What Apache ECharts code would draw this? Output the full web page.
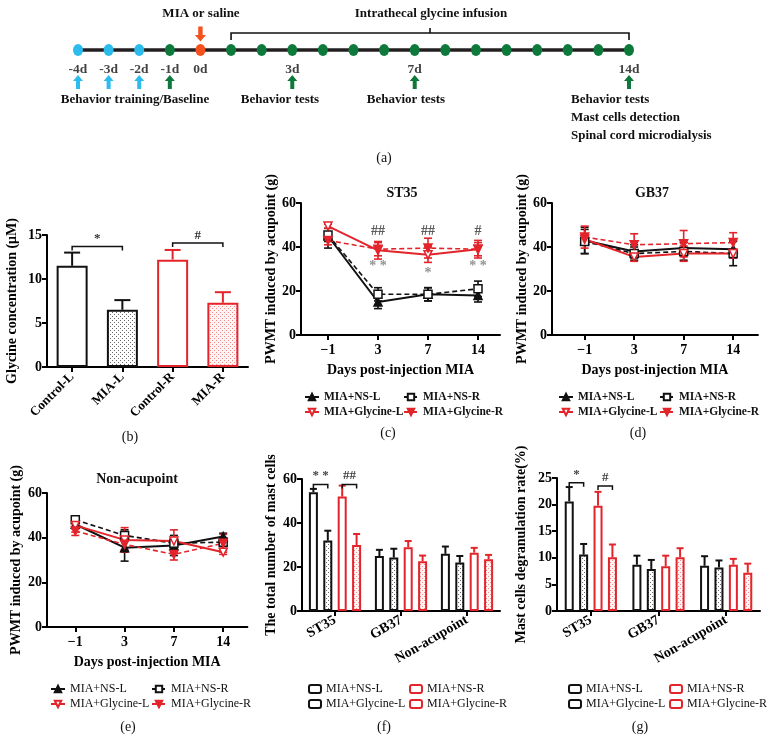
<!DOCTYPE html>
<html><head><meta charset="utf-8">
<script src="https://cdn.jsdelivr.net/npm/echarts/dist/echarts.min.js"></script>
<style>html,body{margin:0;background:#fff;}#root{position:relative;width:768px;height:754px;overflow:hidden;}#root>div{position:absolute;left:0;top:0;width:768px;height:754px;}</style>
</head><body><div id="root"></div>
<script>
// ---------------- DATA ----------------
// (a) timeline
const tlDays = [-4,-3,-2,-1,0,1,2,3,4,5,6,7,8,9,10,11,12,13,14];
const tlLabelDays = [-4,-3,-2,-1,0,3,7,14];
const tlLabels = ['-4d','-3d','-2d','-1d','0d','3d','7d','14d'];
const tlArrowDays = [-4,-3,-2,-1,3,7,14];
const infusionRange = [1,14];

// (b) glycine concentration
const bCats = ['Control-L','MIA-L','Control-R','MIA-R'];
const bMean = [11.5, 6.5, 12.2, 7.3];
const bSem  = [1.5, 1.1, 1.1, 1.2];
const bBrackets = [[0,1,13.7],[2,3,14.1]];
const bBracketText = ['*','#'];

// (c)(d)(e) PWMT time course
const dayCats = ['\u22121','3','7','14'];
const seriesNames = ['MIA+NS-L','MIA+NS-R','MIA+Glycine-L','MIA+Glycine-R'];
const cMeans = [[45,15,18.5,18],[45.5,18.5,18.5,21],[49.5,38.5,36.5,39],[43,39,39.5,39]];
const cSems  = [[5.5,3,3,3],[3,3,3,3.5],[1,4,3.5,4],[2,3,4.5,3]];
const cTopMarks = [[1,47],[2,47],[3,47]];
const cTopText = ['##','##','#'];
const cStarMarks = [[1,31],[2,28],[3,31]];
const cStarText = ['* *','*','* *'];

const dMeans = [[43,38,39.5,39],[42.5,37,38,37],[43.5,35.5,37,37],[44.5,41,41.5,42]];
const dSems  = [[6,3,3.5,4],[5.5,3,4,5.5],[2,2,3.5,2],[5,5,6,4.5]];

const eMeans = [[46,35.5,36.5,40.5],[48,41,37.5,38],[45.5,39,38.5,33.5],[43,37,32.5,37.5]];
const eSems  = [[2,6,4.5,1.5],[1.5,2.5,2,2],[3,5.5,5,1],[2,2.5,2.5,4]];

// (f)(g) mast cells
const mastCats = ['ST35','GB37','Non-acupoint'];
const barNames = ['MIA+NS-L','MIA+Glycine-L','MIA+NS-R','MIA+Glycine-R'];
const fMeans = [[54,25,26],[32,24.3,22],[52,29,26.5],[30,22.6,23.5]];
const fSems  = [[1.5,2.8,3.3],[4.5,4,3],[5,2.8,2.2],[5,2.6,2]];
const fBrackets = [[0,0,1,57.5],[0,2,3,57.5]];
const fBracketText = ['* *','##'];
const gMeans = [[20.6,8.7,8.5],[10.6,7.9,8.2],[19.8,8.4,8.7],[10.1,10.1,7.2]];
const gSems  = [[2.7,1.7,1.8],[2.0,1.7,1.3],[2.6,2.0,1.1],[2.4,1.7,1.7]];
const gBrackets = [[0,0,1,24.1],[0,2,3,23.5]];
const gBracketText = ['*','#'];

// ---------------- STYLE ----------------
const FONT = '"Liberation Serif","DejaVu Serif",serif';
const BLACK = '#111111', RED = '#e3242b';
const CYAN = '#2bbbec', GREEN = '#0d7a3b', ORANGE = '#f4511e';

function dotPattern(bg, fg){
  const c = document.createElement('canvas'); c.width = 4; c.height = 4;
  const x = c.getContext('2d'); x.fillStyle = bg; x.fillRect(0,0,4,4);
  x.fillStyle = fg; x.fillRect(0,0,1,1); x.fillRect(2,2,1,1);
  return {image: c, repeat: 'repeat'};
}
const patBlack = dotPattern('#ffffff', '#6a6a6a');
const patRed = dotPattern('#fff4f4', '#ee8a8a');

const root = document.getElementById('root');
function mk(option){
  const d = document.createElement('div'); root.appendChild(d);
  const ch = echarts.init(d, null, {renderer:'canvas'});
  option.animation = false;
  option.textStyle = {fontFamily: FONT};
  ch.setOption(option);
  return ch;
}
function txt(x, y, text, font, align, color){
  return {type:'text', x:x, y:y, style:{text:text, font:font, fill:color||'#111', align:align||'center', verticalAlign:'middle'}};
}
const axisLineStyle = {color:'#000', width:2};
function valueY(min, max, interval, name, gap){
  return {type:'value', min:min, max:max, interval:interval,
    axisLine:{show:true, onZero:false, lineStyle:axisLineStyle},
    axisTick:{show:true, length:5, lineStyle:axisLineStyle},
    splitLine:{show:false},
    axisLabel:{color:'#000', fontWeight:'bold', fontSize:14, margin:5, fontFamily:FONT},
    name:name, nameLocation:'middle', nameGap:gap, nameRotate:90,
    nameTextStyle:{color:'#000', fontWeight:'bold', fontSize:14, fontFamily:FONT}};
}

// ---------------- (a) timeline ----------------
const UP = 'path://M5,0 L10,6 L7,6 L7,14 L3,14 L3,6 L0,6 Z';
const DOWN = 'path://M3,0 L7,0 L7,8 L10,8 L5,14 L0,8 L3,8 Z';
function dayColor(d){ return d <= -2 ? CYAN : (d === 0 ? ORANGE : GREEN); }
mk({
  grid:{left:78, top:40, width:551, height:20},
  xAxis:{type:'value', min:-4, max:14, show:false},
  yAxis:{type:'value', min:0, max:1, show:false},
  series:[
    {type:'line', data:[[tlDays[0],0.5],[tlDays[tlDays.length-1],0.5]], symbol:'none', lineStyle:{color:'#231f20', width:3.5}, z:1},
    {type:'scatter', data:tlDays.map(d=>[d,0.5]), symbolSize:[10,12], itemStyle:{color:p=>dayColor(p.data[0]), opacity:1}, z:2},
    {type:'scatter', data:tlLabelDays.map((d,i)=>({value:[d,0.5], label:{formatter:tlLabels[i]}})), symbolSize:1,
      itemStyle:{color:'rgba(0,0,0,0)'}, label:{show:true, position:'inside', offset:[0,20], color:'#111', fontWeight:'bold', fontSize:13.5, fontFamily:FONT}},
    {type:'scatter', data:tlArrowDays.map(d=>[d,0.5]), symbol:UP, symbolSize:[10,14], symbolOffset:[0,32],
      itemStyle:{color:p=>(p.data[0] <= -2 ? CYAN : GREEN), opacity:1}},
    {type:'scatter', data:[[0,0.5]], symbol:DOWN, symbolSize:[11,15], symbolOffset:[0,-16], itemStyle:{color:ORANGE, opacity:1}},
    {type:'custom', data:[infusionRange], renderItem:(params, api)=>{
      const a = api.coord([api.value(0),0.5]), b = api.coord([api.value(1),0.5]);
      const y = a[1]-17, mx = (a[0]+b[0])/2;
      return {type:'group', children:[
        {type:'polyline', shape:{points:[[a[0],y+7],[a[0],y],[b[0],y],[b[0],y+7]]}, style:{stroke:'#111', lineWidth:1.6, fill:null}},
        {type:'line', shape:{x1:mx,y1:y,x2:mx,y2:y-5}, style:{stroke:'#111', lineWidth:1.6}}
      ]};
    }}
  ],
  graphic:[
    txt(201,14,'MIA or saline','bold 13px '+FONT),
    txt(431,14,'Intrathecal glycine infusion','bold 13px '+FONT),
    txt(135,100,'Behavior training/Baseline','bold 13px '+FONT),
    txt(280,100,'Behavior tests','bold 13px '+FONT),
    txt(406,100,'Behavior tests','bold 13px '+FONT),
    txt(571,100,'Behavior tests','bold 13px '+FONT,'left'),
    txt(571,118,'Mast cells detection','bold 13px '+FONT,'left'),
    txt(571,136,'Spinal cord microdialysis','bold 13px '+FONT,'left'),
    txt(384,158,'(a)','14px '+FONT),
    txt(130,437,'(b)','14px '+FONT),
    txt(388,433,'(c)','14px '+FONT),
    txt(638,433,'(d)','14px '+FONT),
    txt(128,727,'(e)','14px '+FONT),
    txt(384,727,'(f)','14px '+FONT),
    txt(640,727,'(g)','14px '+FONT)
  ]
});

// ---------------- (b) ----------------
const bStyle = [
  {color:'#fff', borderColor:BLACK},
  {color:patBlack, borderColor:BLACK},
  {color:'#fff', borderColor:RED},
  {color:patRed, borderColor:RED}
];
mk({
  grid:{left:47, top:235, width:201, height:132},
  xAxis:{type:'category', data:bCats, axisLine:{lineStyle:axisLineStyle}, axisTick:{show:true, alignWithLabel:true, length:5, lineStyle:axisLineStyle},
    axisLabel:{rotate:45, color:'#000', fontWeight:'bold', fontSize:13, margin:8, fontFamily:FONT, interval:0}},
  yAxis:valueY(0,15,5,'Glycine concentration (\u03bcM)',28),
  series:[
    {type:'bar', barWidth:31, data:bMean.map((v,i)=>({value:v, itemStyle:{color:bStyle[i].color, borderColor:bStyle[i].borderColor, borderWidth:2}})), z:2},
    {type:'custom', data:bMean.map((v,i)=>[i, v, v+bSem[i]]), encode:{x:0, y:[1,2]}, z:1, renderItem:(p,api)=>{
      const i = api.value(0), lo = api.coord([i, api.value(1)]), hi = api.coord([i, api.value(2)]);
      const col = bStyle[i].borderColor;
      return {type:'group', children:[
        {type:'line', shape:{x1:lo[0],y1:lo[1],x2:hi[0],y2:hi[1]}, style:{stroke:col, lineWidth:2}},
        {type:'line', shape:{x1:hi[0]-8,y1:hi[1],x2:hi[0]+8,y2:hi[1]}, style:{stroke:col, lineWidth:2}}
      ]};
    }},
    {type:'custom', data:bBrackets, encode:{x:0, y:2}, renderItem:(p,api)=>{
      const a = api.coord([api.value(0), api.value(2)]), b = api.coord([api.value(1), api.value(2)]);
      const y = a[1];
      return {type:'group', children:[
        {type:'polyline', shape:{points:[[a[0],y+4],[a[0],y],[b[0],y],[b[0],y+4]]}, style:{stroke:'#111', lineWidth:1.5, fill:null}},
        {type:'text', x:(a[0]+b[0])/2, y:y-1, style:{text:bBracketText[p.dataIndex], font:'bold 13px '+FONT, fill:'#333', align:'center', verticalAlign:'bottom'}}
      ]};
    }}
  ]
});

// ---------------- line panels ----------------
const lineDefs = [
  {color:BLACK, dashed:false, symbol:'triangle', rot:0, fill:BLACK},
  {color:BLACK, dashed:true, symbol:'rect', rot:0, fill:'#fff'},
  {color:RED, dashed:false, symbol:'triangle', rot:180, fill:'#fff'},
  {color:RED, dashed:true, symbol:'triangle', rot:180, fill:RED}
];
function linePanel(o){
  const series = [];
  lineDefs.forEach((d,k)=>{
    const m = o.means[k], s = o.sems[k];
    series.push({type:'custom', data:m.map((v,i)=>[i, v-s[i], v+s[i]]), encode:{x:0, y:[1,2]}, z:2, renderItem:(p,api)=>{
      const x = api.value(0), lo = api.coord([x, api.value(1)]), hi = api.coord([x, api.value(2)]);
      return {type:'group', children:[
        {type:'line', shape:{x1:lo[0],y1:lo[1],x2:hi[0],y2:hi[1]}, style:{stroke:d.color, lineWidth:1.6}},
        {type:'line', shape:{x1:lo[0]-4,y1:lo[1],x2:lo[0]+4,y2:lo[1]}, style:{stroke:d.color, lineWidth:1.6}},
        {type:'line', shape:{x1:hi[0]-4,y1:hi[1],x2:hi[0]+4,y2:hi[1]}, style:{stroke:d.color, lineWidth:1.6}}
      ]};
    }});
    series.push({type:'line', name:seriesNames[k], data:m.map((v,i)=>[i,v]), symbol:d.symbol, symbolRotate:d.rot, symbolSize:8,
      lineStyle:{color:d.color, width:d.dashed?1.6:2, type:d.dashed?[5,3]:'solid'},
      itemStyle:{color:d.fill, borderColor:d.color, borderWidth:1.5}, z:3});
  });
  (o.marks||[]).forEach(mk2=>{
    series.push({type:'scatter', data:mk2.pos.map((p,i)=>({value:p, label:{formatter:mk2.text[i]}})), symbolSize:1, itemStyle:{color:'rgba(0,0,0,0)'},
      label:{show:true, position:'inside', color:mk2.color, fontSize:14, fontWeight:'bold', fontFamily:FONT}, z:4});
  });
  const legText = {color:'#111', fontSize:o.legBold?11.5:12, fontWeight:o.legBold?'bold':'normal', fontFamily:FONT};
  return mk({
    grid:{left:o.axisX, top:o.top, width:(o.xmax-o.xmin)*o.step, height:o.height},
    xAxis:{type:'value', min:o.xmin, max:o.xmax,
      axisLine:{show:true, onZero:false, lineStyle:axisLineStyle},
      axisTick:{show:true, customValues:[0,1,2,3], length:5, lineStyle:axisLineStyle},
      splitLine:{show:false},
      axisLabel:{customValues:[0,1,2,3], formatter:v=>dayCats[Math.round(v)], color:'#000', fontWeight:'bold', fontSize:14, margin:8, fontFamily:FONT},
      name:'Days post-injection MIA', nameLocation:'middle', nameGap:o.xNameGap,
      nameTextStyle:{color:'#000', fontWeight:'bold', fontSize:14, fontFamily:FONT}},
    yAxis:valueY(0,60,20,'PWMT induced by acupoint (g)',o.yNameGap),
    legend:[
      {orient:'vertical', left:o.leg[0], top:o.leg[2], itemGap:3, itemWidth:14, itemHeight:8, data:[seriesNames[0],seriesNames[2]], textStyle:legText},
      {orient:'vertical', left:o.leg[1], top:o.leg[2], itemGap:3, itemWidth:14, itemHeight:8, data:[seriesNames[1],seriesNames[3]], textStyle:legText}
    ],
    graphic:[txt(o.titleX, o.titleY, o.title, 'bold 14px '+FONT)],
    series:series
  });
}
linePanel({axisX:301, top:203, height:132, xmin:-0.54, xmax:3.44, step:50, means:cMeans, sems:cSems,
  title:'ST35', titleX:402, titleY:193, xNameGap:28, yNameGap:19, leg:[299,398,386], legBold:true,
  marks:[{pos:cTopMarks, text:cTopText, color:'#333'},{pos:cStarMarks, text:cStarText, color:'#777'}]});
linePanel({axisX:552, top:203, height:132, xmin:-0.66, xmax:3.5, step:49.5, means:dMeans, sems:dSems,
  title:'GB37', titleX:652, titleY:193, xNameGap:28, yNameGap:19, leg:[553,654,386], legBold:true});
linePanel({axisX:47, top:493, height:134, xmin:-0.574, xmax:3.49, step:49.3, means:eMeans, sems:eSems,
  title:'Non-acupoint', titleX:137, titleY:479, xNameGap:28, yNameGap:24, leg:[45,146,678], legBold:false});

// ---------------- bar panels ----------------
const barDefs = [
  {color:BLACK, fill:'#fff'},
  {color:BLACK, fill:patBlack},
  {color:RED, fill:'#fff'},
  {color:RED, fill:patRed}
];
const BW = 9, BGAP = 5.4;
function barOffset(k){ return (k-1.5)*(BW+BGAP); }
function barPanel(o){
  const series = [];
  barDefs.forEach((d,k)=>{
    series.push({type:'bar', name:barNames[k], data:o.means[k], barWidth:BW, barGap:(BGAP/BW*100)+'%',
      itemStyle:{color:d.fill, borderColor:d.color, borderWidth:2}, z:2});
  });
  barDefs.forEach((d,k)=>{
    series.push({type:'custom', data:o.means[k].map((v,i)=>[i, v, v+o.sems[k][i]]), encode:{x:0, y:[1,2]}, z:1, renderItem:(p,api)=>{
      const i = api.value(0), lo = api.coord([i, api.value(1)]), hi = api.coord([i, api.value(2)]);
      const x = lo[0] + barOffset(k);
      return {type:'group', children:[
        {type:'line', shape:{x1:x,y1:lo[1],x2:x,y2:hi[1]}, style:{stroke:d.color, lineWidth:2}},
        {type:'line', shape:{x1:x-3.5,y1:hi[1],x2:x+3.5,y2:hi[1]}, style:{stroke:d.color, lineWidth:2}}
      ]};
    }});
  });
  series.push({type:'custom', data:o.brackets, encode:{x:0, y:3}, z:3, renderItem:(p,api)=>{
    const c = api.coord([api.value(0), api.value(3)]);
    const x1 = c[0] + barOffset(api.value(1)), x2 = c[0] + barOffset(api.value(2)), y = c[1];
    return {type:'group', children:[
      {type:'polyline', shape:{points:[[x1,y+4],[x1,y],[x2,y],[x2,y+4]]}, style:{stroke:'#111', lineWidth:1.5, fill:null}},
      {type:'text', x:(x1+x2)/2, y:y-2, style:{text:o.bracketText[p.dataIndex], font:'bold 13px '+FONT, fill:'#444', align:'center', verticalAlign:'bottom'}}
    ]};
  }});
  const legText = {color:'#111', fontSize:12, fontFamily:FONT};
  const legItem = (k)=>({name:barNames[k], icon:'roundRect', itemStyle:{color:'#fff', borderColor:barDefs[k].color, borderWidth:2}});
  return mk({
    grid:{left:o.left, top:o.top, width:o.width, height:o.height},
    xAxis:{type:'category', data:mastCats, axisLine:{lineStyle:axisLineStyle}, axisTick:{show:true, alignWithLabel:true, length:5, lineStyle:axisLineStyle},
      axisLabel:{rotate:30, interval:0, color:'#000', fontWeight:'bold', fontSize:14, margin:8, fontFamily:FONT}},
    yAxis:valueY(0,o.ymax,o.yint,o.yName,o.yNameGap),
    legend:[
      {orient:'vertical', left:o.leg[0], top:o.leg[2], itemGap:3, itemWidth:12, itemHeight:8, data:[legItem(0), legItem(1)], textStyle:legText},
      {orient:'vertical', left:o.leg[1], top:o.leg[2], itemGap:3, itemWidth:12, itemHeight:8, data:[legItem(2), legItem(3)], textStyle:legText}
    ],
    series:series
  });
}
barPanel({left:302, top:479, width:198, height:132, means:fMeans, sems:fSems, brackets:fBrackets, bracketText:fBracketText,
  ymax:60, yint:20, yName:'The total number of mast cells', yNameGap:24, leg:[303,404,678]});
barPanel({left:557, top:478, width:203, height:133, means:gMeans, sems:gSems, brackets:gBrackets, bracketText:gBracketText,
  ymax:25, yint:5, yName:'Mast cells degranulation rate(%)', yNameGap:29, leg:[563,664,678]});
</script></body></html>
